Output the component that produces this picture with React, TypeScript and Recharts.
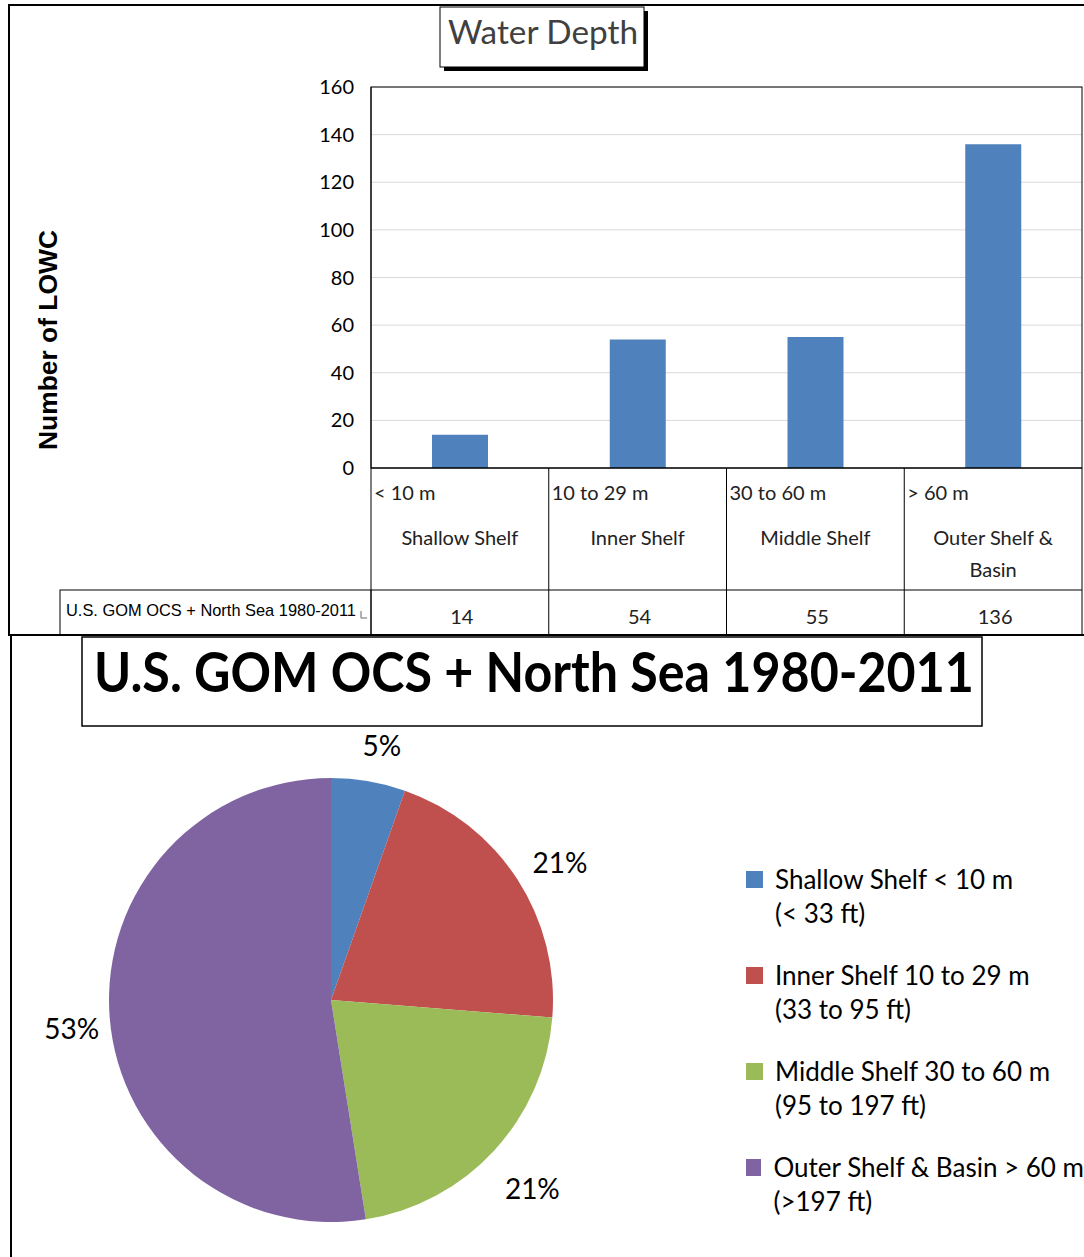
import React from "react";
import {
  BarChart,
  Bar,
  XAxis,
  YAxis,
  CartesianGrid,
  PieChart,
  Pie,
  Cell,
  Legend,
} from "recharts";

const depthNames = ["Shallow Shelf", "Inner Shelf", "Middle Shelf", "Outer Shelf & Basin"];
const depthRanges = ["< 10 m", "10 to 29 m", "30 to 60 m", "> 60 m"];
const lowcCounts = [14, 54, 55, 136];
const yTicks = [0, 20, 40, 60, 80, 100, 120, 140, 160];
const pieLabels = ["5%", "21%", "21%", "53%"];
const legendNames = [
  "Shallow Shelf < 10 m",
  "Inner Shelf 10 to 29 m",
  "Middle Shelf 30 to 60 m",
  "Outer Shelf & Basin > 60 m",
];
const legendFeet = ["(< 33 ft)", "(33 to 95 ft)", "(95 to 197 ft)", "(>197 ft)"];
const sliceColors = ["#4f81bd", "#c0504d", "#9bbb59", "#8064a2"];
const seriesName = "U.S. GOM OCS + North Sea 1980-2011";

const barData = depthNames.map((name, i) => ({
  name,
  range: depthRanges[i],
  count: lowcCounts[i],
}));
const pieData = legendNames.map((name, i) => ({
  name,
  feet: legendFeet[i],
  value: lowcCounts[i],
}));

const FONT = "Lato, 'Open Sans', sans-serif";
const PLOT_LEFT = 371;
const PLOT_RIGHT = 1082;
const PLOT_TOP = 87;
const PLOT_BOTTOM = 468;
const cellW = (PLOT_RIGHT - PLOT_LEFT) / depthNames.length;

// category cell + value cell under each bar
function TableTick(props: any) {
  const { x, payload } = props;
  const i = payload.index;
  const left = x - cellW / 2;
  const words = depthNames[i] === "Outer Shelf & Basin" ? ["Outer Shelf &", "Basin"] : [depthNames[i]];
  return (
    <g fontFamily={FONT} fill="#222">
      <line x1={left} x2={left} y1={PLOT_BOTTOM} y2={635} stroke="#000" />
      {i === depthNames.length - 1 && (
        <line x1={left + cellW} x2={left + cellW} y1={PLOT_BOTTOM} y2={635} stroke="#000" />
      )}
      <line x1={left} x2={left + cellW} y1={590} y2={590} stroke="#000" />
      <text x={left + 3} y={500} fontSize={20} fill="#222">
        {depthRanges[i]}
      </text>
      {words.map((w, k) => (
        <text key={k} x={x} y={545 + k * 32} fontSize={20} textAnchor="middle" fill="#222">
          {w}
        </text>
      ))}
      <text x={x + 2} y={624} fontSize={20} textAnchor="middle" fill="#222">
        {lowcCounts[i]}
      </text>
    </g>
  );
}

function PieLabel(props: any) {
  const { cx, cy, midAngle, outerRadius, index } = props;
  const RAD = Math.PI / 180;
  const r = outerRadius + 44;
  const x = cx + r * Math.cos(-midAngle * RAD) + 6;
  const y = cy + r * Math.sin(-midAngle * RAD) + 7;
  return (
    <text x={x} y={y} textAnchor="middle" dominantBaseline="central" fontSize={28} fontFamily={FONT} fill="#000">
      {pieLabels[index]}
    </text>
  );
}

function PieLegend() {
  return (
    <div style={{ fontFamily: FONT, fontSize: 26, color: "#000", lineHeight: "34px" }}>
      {pieData.map((d, i) => (
        <div key={i} style={{ display: "flex", height: 96 }}>
          <div style={{ width: 17, height: 17, background: sliceColors[i], marginTop: 1, marginRight: 12 }} />
          <div style={{ marginTop: -8 }}>
            <div style={{ whiteSpace: "nowrap" }}>{d.name}</div>
            <div>{d.feet}</div>
          </div>
        </div>
      ))}
    </div>
  );
}

export default function App() {
  return (
    <div style={{ position: "absolute", left: 0, top: 0, width: 1084, height: 1257, background: "#fff" }}>
      <div style={{ position: "absolute", left: 0, top: 0 }}>
        <BarChart width={1084} height={640} data={barData} margin={{ top: PLOT_TOP, right: 1084 - PLOT_RIGHT, left: 0, bottom: 0 }}>
          <CartesianGrid vertical={false} stroke="#d9d9d9" />
          <XAxis
            dataKey="name"
            height={640 - PLOT_BOTTOM}
            axisLine={{ stroke: "#000" }}
            tickLine={false}
            interval={0}
            tick={<TableTick />}
          />
          <YAxis
            width={PLOT_LEFT}
            domain={[0, 160]}
            ticks={yTicks}
            tickLine={false}
            tickSize={0}
            tickMargin={17}
            axisLine={{ stroke: "#000" }}
            tick={{ fontSize: 20, fill: "#000", fontFamily: FONT }}
            label={{
              content: () => (
                <text
                  transform="translate(57,340) rotate(-90)"
                  textAnchor="middle"
                  fontSize={25}
                  fontWeight="bold"
                  fontFamily="'Liberation Sans', Arial, sans-serif"
                  fill="#000"
                  textLength={220}
                  lengthAdjust="spacingAndGlyphs"
                >
                  Number of LOWC
                </text>
              ),
            }}
          />
          <Bar dataKey="count" fill="#4f81bd" barSize={56} isAnimationActive={false} />
        </BarChart>
      </div>

      <div style={{ position: "absolute", left: 0, top: 637 }}>
        <PieChart width={1084} height={620} margin={{ top: 0, right: 0, bottom: 0, left: 0 }}>
          <Pie
            data={pieData}
            dataKey="value"
            cx={331}
            cy={363}
            outerRadius={222}
            startAngle={90}
            endAngle={-270}
            stroke="none"
            label={PieLabel}
            labelLine={false}
            isAnimationActive={false}
          >
            {pieData.map((d, i) => (
              <Cell key={i} fill={sliceColors[i]} />
            ))}
          </Pie>
          <Legend
            layout="vertical"
            align="right"
            verticalAlign="top"
            content={<PieLegend />}
            wrapperStyle={{ left: 746, top: 870 - 637, width: 338 }}
          />
        </PieChart>
      </div>

      {/* frames and titles */}
      <svg width={1084} height={1257} style={{ position: "absolute", left: 0, top: 0, pointerEvents: "none" }}>
        <line x1={8} x2={1084} y1={5} y2={5} stroke="#000" strokeWidth={2} />
        <line x1={9} x2={9} y1={5} y2={636} stroke="#000" strokeWidth={2} />
        <line x1={8} x2={1084} y1={635} y2={635} stroke="#000" strokeWidth={2} />
        <line x1={11} x2={11} y1={636} y2={1257} stroke="#000" strokeWidth={2} />
        <rect x={PLOT_LEFT} y={PLOT_TOP} width={PLOT_RIGHT - PLOT_LEFT} height={PLOT_BOTTOM - PLOT_TOP} fill="none" stroke="#000" />

        <rect x={444} y={11} width={204} height={60} fill="#000" />
        <rect x={440} y={7} width={204} height={60} fill="#fff" stroke="#000" />
        <text x={448} y={44} fontSize={32} fontFamily={FONT} fill="#404040" textLength={190} lengthAdjust="spacingAndGlyphs">
          Water Depth
        </text>

        <rect x={60} y={590} width={PLOT_LEFT - 60} height={45} fill="none" stroke="#000" />
        <text x={66} y={616} fontSize={17} fontFamily="'Liberation Sans', Arial, sans-serif" fill="#000" textLength={290} lengthAdjust="spacingAndGlyphs">
          {seriesName}
        </text>
        <polyline points="361,611 361,618 367,618" fill="none" stroke="#666" strokeWidth={1} />

        <rect x={82} y={637} width={900} height={89} fill="#fff" stroke="#000" strokeWidth={1.5} />
        <text x={534} y={692} fontSize={56} fontWeight="bold" fontFamily={FONT} textAnchor="middle" fill="#000" textLength={880} lengthAdjust="spacingAndGlyphs">
          {seriesName}
        </text>
      </svg>
    </div>
  );
}
